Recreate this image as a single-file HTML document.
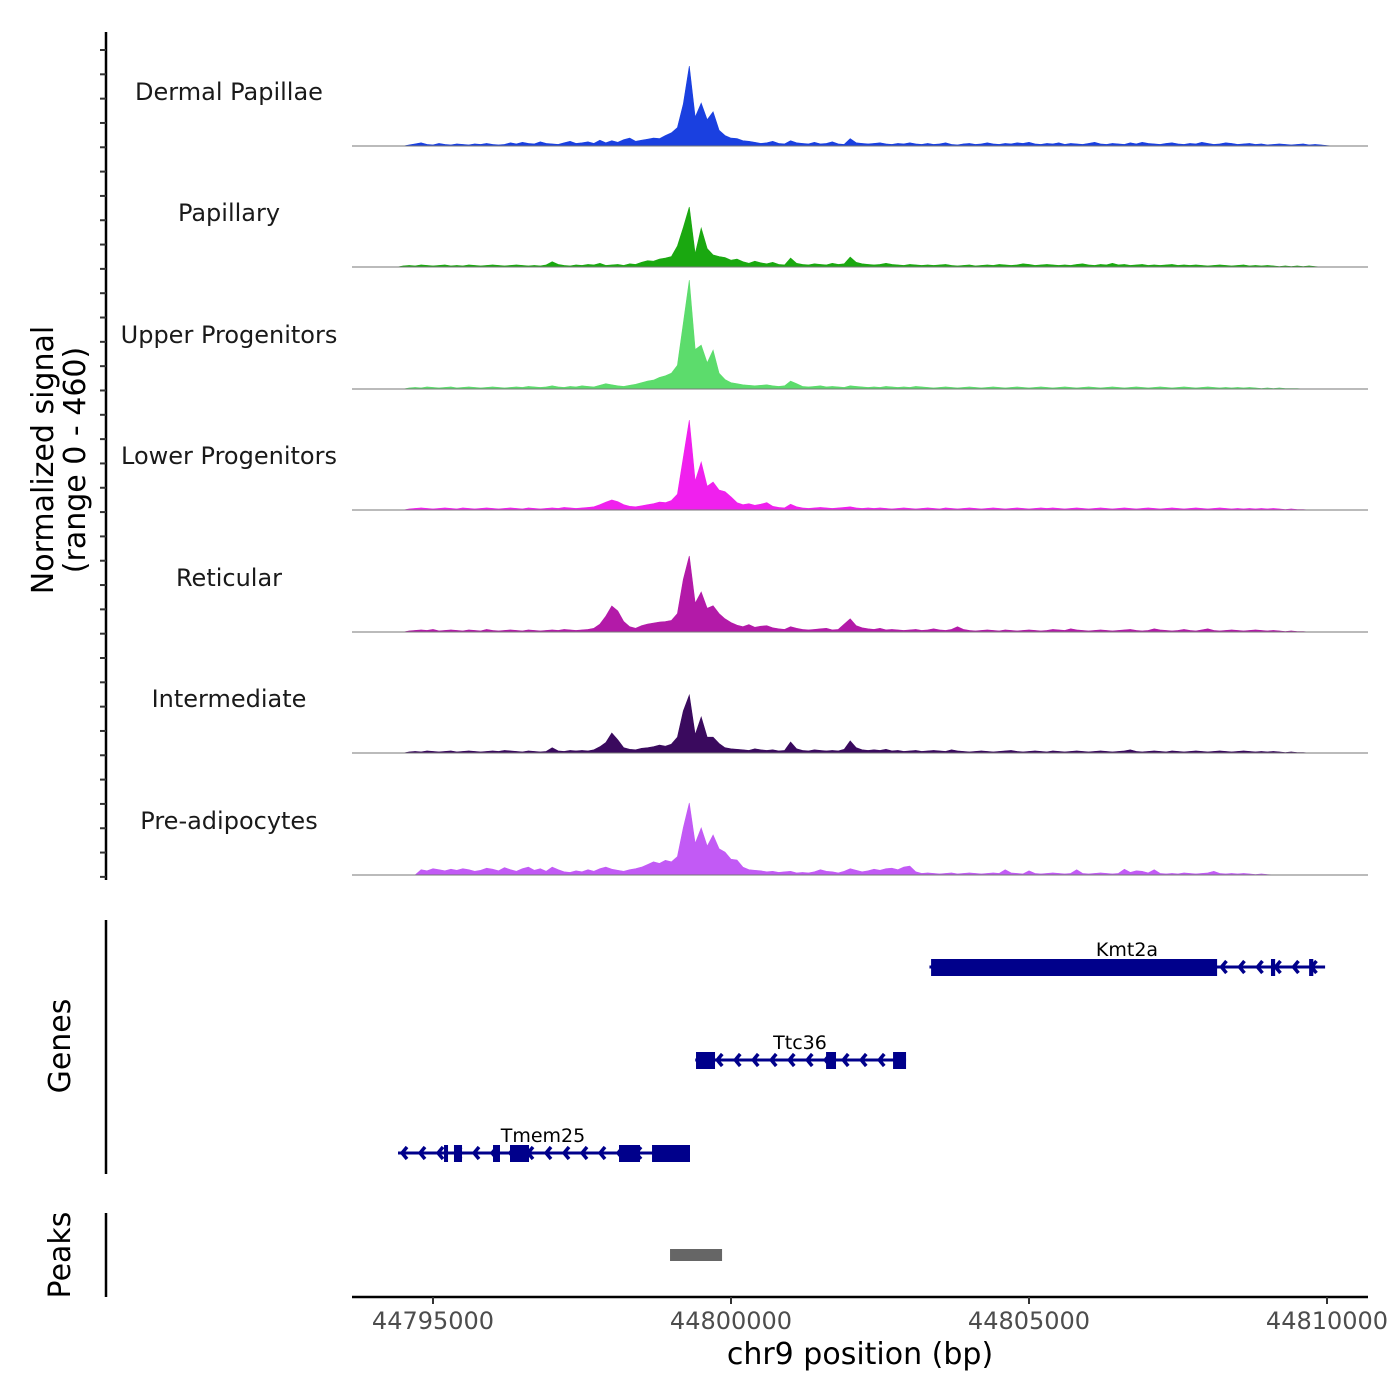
<!DOCTYPE html>
<html><head><meta charset="utf-8"><style>
html,body{margin:0;padding:0;background:#fff}
svg{display:block;font-family:"DejaVu Sans","Liberation Sans",sans-serif}
</style></head><body>
<svg id="chart" width="1400" height="1400" viewBox="0 0 1400 1400">
<g id="tracks"></g>
<g id="genes"></g>
<g id="peaks"></g>
<g id="axes"></g>
<text x="53" y="460" font-size="30" text-anchor="middle" transform="rotate(-90 53 460)">Normalized signal</text>
<text x="85" y="460" font-size="30" text-anchor="middle" transform="rotate(-90 85 460)">(range 0 - 460)</text>
<text x="70" y="1046" font-size="30" text-anchor="middle" transform="rotate(-90 70 1046)">Genes</text>
<text x="70" y="1255" font-size="30" text-anchor="middle" transform="rotate(-90 70 1255)">Peaks</text>
<text x="860" y="1364" font-size="30" text-anchor="middle">chr9 position (bp)</text>
</svg>
<script>
const trackNames=["Dermal Papillae","Papillary","Upper Progenitors","Lower Progenitors","Reticular","Intermediate","Pre-adipocytes"];
const trackColors=["#1a40e0","#1aa810","#5cdc6c","#f020ee","#b31aa8","#3a0a5e","#c25af5"];
const binStart=44794400;
const binSize=100;
const sigDP=[0,0,4,8,12,6,4,10,6,4, 8,6,4,8,6,10,6,4,6,12, 8,14,10,8,16,10,8,6,12,18, 10,12,16,10,22,12,20,14,24,30, 18,22,26,30,28,40,50,70,160,304, 110,163,100,130,60,40,30,28,20,18, 14,10,12,18,10,8,20,12,10,8, 14,8,10,16,8,6,28,12,10,8, 10,12,8,6,10,8,12,8,6,10, 6,8,12,6,4,8,10,6,8,12, 8,6,10,8,12,10,14,8,6,10, 8,12,6,10,8,6,10,14,8,6, 10,8,6,12,8,14,10,8,6,10, 12,8,6,10,8,14,10,6,8,12, 10,6,8,10,6,8,4,6,8,6, 4,6,8,4,6,4,2];
const sigPap=[0,4,6,4,8,6,4,6,8,4, 6,4,8,6,4,6,8,6,4,6, 8,6,4,6,4,8,20,10,6,4, 8,6,10,8,14,6,8,10,6,12, 10,18,24,22,30,34,40,80,150,228, 50,148,70,46,40,36,26,30,20,14, 22,16,12,18,10,8,34,14,10,8, 12,10,8,14,10,12,38,18,12,10, 8,10,14,10,8,6,10,8,6,8, 6,8,10,6,4,6,8,4,6,8, 6,10,8,6,8,12,10,6,8,10, 8,6,8,6,10,12,8,6,10,8, 14,8,10,6,8,10,6,8,6,8, 10,6,8,6,8,6,4,6,8,6, 4,6,8,4,6,4,6,4,2,4, 2,4,2,4,2,0,0];
const sigUP=[0,0,4,6,4,8,6,4,6,8, 4,6,8,6,4,6,8,6,4,6, 8,6,10,8,6,8,12,8,6,10, 8,12,10,8,14,20,16,12,10,14, 18,24,30,34,44,50,60,90,250,414, 150,167,100,148,60,36,24,20,16,14, 12,14,16,12,10,12,30,20,10,8, 10,12,8,10,8,6,12,10,8,6, 8,6,10,8,6,8,6,10,8,6, 4,6,8,6,4,6,8,6,4,6, 8,6,4,6,8,6,4,6,8,6, 4,6,8,6,4,6,8,6,4,6, 8,6,4,6,8,6,4,6,8,6, 4,6,8,6,4,6,8,6,4,6, 4,6,4,6,4,2,4,2,4,2, 2,2,0,0,0,0,0];
const sigLP=[0,0,4,6,8,6,4,6,8,6, 4,8,6,4,6,8,6,4,6,8, 6,4,8,6,4,6,8,6,10,8, 6,8,10,12,20,30,38,32,20,14, 12,16,20,24,30,28,36,60,200,342, 110,182,90,106,76,70,50,28,20,24, 18,22,28,14,10,8,22,12,8,6, 8,10,8,6,8,10,12,8,6,8, 6,8,6,4,6,8,6,4,6,8, 6,4,8,6,4,6,8,6,4,6, 8,6,4,6,8,6,4,6,8,6, 8,6,4,6,8,6,4,6,8,6, 4,6,8,6,4,6,8,6,4,6, 8,6,4,6,8,6,4,6,8,6, 4,6,4,6,4,6,4,6,4,2, 4,2,2,0,0,0,0];
const sigRet=[0,0,4,6,8,6,10,4,6,8, 6,4,8,6,4,10,6,4,6,8, 6,4,8,6,4,6,8,6,10,8, 6,8,10,14,30,60,99,80,40,20, 14,24,30,34,38,40,44,70,200,289, 110,152,90,100,70,50,36,26,20,28, 18,22,24,16,12,10,20,14,10,8, 10,12,14,8,10,30,50,24,16,12, 10,14,8,10,8,6,8,10,6,8, 12,8,6,10,20,10,6,4,6,8, 6,4,8,6,4,6,8,6,4,6, 10,8,6,12,8,6,4,6,8,6, 4,6,8,10,6,4,6,12,8,6, 4,6,10,6,4,8,12,6,4,6, 8,6,4,6,8,6,4,6,4,2, 4,2,2,0,0,0,0];
const sigInt=[0,0,4,6,4,8,6,4,6,8, 4,6,8,6,4,6,8,6,10,8, 6,4,8,6,4,6,20,8,6,10, 8,10,8,12,24,40,76,50,20,14, 12,18,20,24,30,26,34,60,160,220, 70,137,60,60,36,20,16,14,12,10, 16,12,10,12,8,10,42,16,10,8, 12,10,8,10,8,14,46,20,12,10, 12,10,14,8,10,6,8,10,6,8, 10,8,6,12,8,6,4,6,8,6, 4,6,8,10,6,4,6,8,6,4, 8,6,4,6,8,6,4,6,8,6, 4,6,8,12,6,4,6,8,6,4, 8,6,4,6,8,6,4,6,8,6, 4,6,8,6,4,6,4,6,4,2, 4,2,2,0,0,0,0];
const sigPre=[0,0,0,0,20,16,24,20,16,22, 18,24,20,14,18,26,22,16,28,20, 14,24,30,18,24,14,30,20,12,10, 16,12,20,14,24,30,22,18,14,20, 24,30,40,50,44,56,50,70,180,274, 120,179,110,152,100,87,60,57,30,20, 18,16,12,14,10,12,14,8,10,8, 12,20,14,12,8,14,24,18,12,16, 22,18,24,26,20,30,34,12,6,8, 6,4,6,8,4,6,8,6,4,6, 8,6,20,8,6,4,16,6,4,6, 8,6,4,6,20,6,4,6,8,6, 4,6,22,10,16,14,8,20,6,4, 6,4,8,6,4,6,8,14,6,4, 6,4,6,4,2,4,2,0,0,0, 0,0,0,0,0,0,0];
const signals=[sigDP,sigPap,sigUP,sigLP,sigRet,sigInt,sigPre];
const xTicks=[44795000,44800000,44805000,44810000];
const genes=["Kmt2a","Ttc36","Tmem25"];
const geneSpans=[[44803330,44809968],[44799400,44802937],[44794413,44799312]];
const geneExons=[
 [[44803357,44808156],[44809060,44809130],[44809700,44809770]],
 [[44799413,44799732],[44801595,44801762],[44802719,44802937]],
 [[44795185,44795252],[44795352,44795487],[44796007,44796124],[44796292,44796611],[44798121,44798473],[44798675,44799312]]
];
const peaksBp=[[44798977,44799850]];

const NS="http://www.w3.org/2000/svg";
function mk(tag,attrs,parent){const e=document.createElementNS(NS,tag);for(const k in attrs)e.setAttribute(k,attrs[k]);parent.appendChild(e);return e;}
const xScale=bp=>433+(bp-44795000)*(298/5000);
const trackBase=[146,267,389,510,632,753,875];
const trackH=121, yMax=460;
const yScale=(v,i)=>trackBase[i]-v/yMax*trackH;

const tg=document.getElementById('tracks');
signals.forEach((arr,i)=>{
  let d=`M${xScale(binStart)},${trackBase[i]}`;
  arr.forEach((v,j)=>{d+=` L${xScale(binStart+binSize*j).toFixed(1)},${yScale(v,i).toFixed(1)}`;});
  d+=` L${xScale(binStart+binSize*arr.length)},${trackBase[i]} Z`;
  const p=mk('path',{d:d,fill:trackColors[i],stroke:trackColors[i],'stroke-width':0.6},tg);
  
  
  const bl=mk('line',{x1:352,x2:1368,y1:trackBase[i],y2:trackBase[i],stroke:'#777','stroke-width':1},tg);
  
  
  const t=mk('text',{x:229,y:trackBase[i]-46,'font-size':24,'text-anchor':'middle',fill:'#1a1a1a'},tg);
  t.textContent=trackNames[i];
  
  
});

const gg=document.getElementById('genes');
const geneY=[967,1060,1153];
const col='#00008b';
genes.forEach((g,i)=>{
  const y=geneY[i],s=geneSpans[i];
  const grp=mk('g',{},gg);
  
  
  mk('line',{x1:xScale(s[0]),x2:xScale(s[1]),y1:y,y2:y,stroke:col,'stroke-width':3},grp);
  for(let x=xScale(s[0])+4;x<xScale(s[1])-4;x+=18){
    mk('path',{d:`M${x+5},${y-6} L${x},${y} L${x+5},${y+6}`,fill:'none',stroke:col,'stroke-width':3.5},grp);
  }
  geneExons[i].forEach(e=>{
    mk('rect',{x:xScale(e[0]),y:y-8,width:Math.max(4,xScale(e[1])-xScale(e[0])),height:17,fill:col},grp);
  });
  const t=mk('text',{x:(i==0?1127:i==1?800:543),y:y-11,'font-size':19,'text-anchor':'middle'},grp);
  t.textContent=g;
});

const pg=document.getElementById('peaks');
peaksBp.forEach(p=>{
  const r=mk('rect',{x:xScale(p[0]),y:1249,width:xScale(p[1])-xScale(p[0]),height:12,fill:'#666'},pg);
  
  
});

const ag=document.getElementById('axes');
mk('line',{x1:106,x2:106,y1:32,y2:880,stroke:'#000','stroke-width':2.5},ag);
for(let y=50;y<=880;y+=24.32){mk('line',{x1:100,x2:106,y1:y,y2:y,stroke:'#333','stroke-width':2},ag);}
mk('line',{x1:106,x2:106,y1:920,y2:1174,stroke:'#000','stroke-width':2.5},ag);
mk('line',{x1:106,x2:106,y1:1213,y2:1297,stroke:'#000','stroke-width':2.5},ag);
mk('line',{x1:352,x2:1368,y1:1297,y2:1297,stroke:'#000','stroke-width':2.5},ag);
xTicks.forEach(v=>{
  const x=xScale(v);
  mk('line',{x1:x,x2:x,y1:1297,y2:1304,stroke:'#333','stroke-width':2},ag);
  const t=mk('text',{x:x,y:1329,'font-size':24,'text-anchor':'middle',fill:'#4d4d4d'},ag);
  t.textContent=v;
  
  
});
</script>
</body></html>
